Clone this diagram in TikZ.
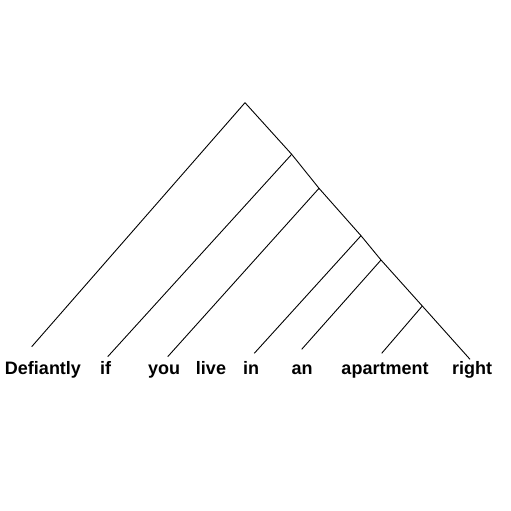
\documentclass[tikz,border=0pt]{standalone}
\usepackage{fontspec}
\setmainfont{Liberation Sans}
\begin{document}
\begin{tikzpicture}[
        x=1pt, y=-1pt,
        word/.style={anchor=base, inner sep=0pt, font=\fontsize{18}{20}\selectfont\bfseries},
        branch/.style={line width=0.9pt},
    ]
        \useasboundingbox (0, 0) rectangle (511, 511);

        \coordinate (root) at (245, 102.7);
        \coordinate (n1) at (291.7, 154.3);
        \coordinate (n2) at (319, 188.3);
        \coordinate (n3) at (361, 235.7);
        \coordinate (n4) at (381, 260);
        \coordinate (n5) at (422.3, 306);

        \coordinate (l1) at (31.7, 346.7);
        \coordinate (l2) at (107.7, 356.7);
        \coordinate (l3) at (167.7, 356.7);
        \coordinate (l4) at (254.3, 353.3);
        \coordinate (l5) at (301.7, 349.3);
        \coordinate (l6) at (381.7, 353.3);
        \coordinate (l7) at (470, 359.3);

        \node[word] (w1) at (43, 374) {Defiantly};
        \node[word] (w2) at (105.5, 374) {if};
        \node[word] (w3) at (164, 374) {you};
        \node[word] (w4) at (211, 374) {live};
        \node[word] (w5) at (251, 374) {in};
        \node[word] (w6) at (302, 374) {an};
        \node[word] (w7) at (385, 374) {apartment};
        \node[word] (w8) at (472, 374) {right};

        \draw[branch] (root) -- (l1);
        \draw[branch] (root) -- (n1) -- (n2) -- (n3) -- (n4) -- (n5) -- (l7);
        \draw[branch] (n1) -- (l2);
        \draw[branch] (n2) -- (l3);
        \draw[branch] (n3) -- (l4);
        \draw[branch] (n4) -- (l5);
        \draw[branch] (n5) -- (l6);
    \end{tikzpicture}
\end{document}
